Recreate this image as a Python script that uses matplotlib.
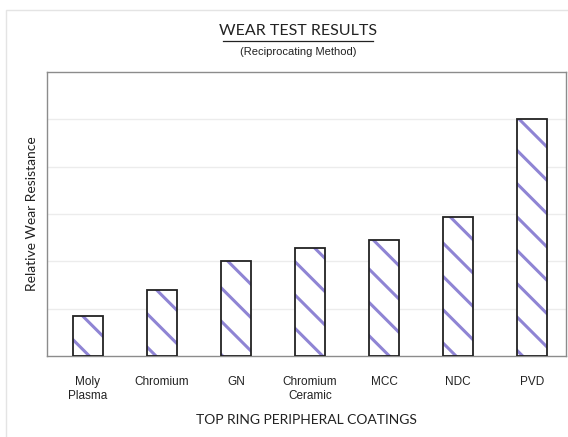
import numpy as np
import matplotlib
matplotlib.use("Agg")
import matplotlib.pyplot as plt
from matplotlib.lines import Line2D
from matplotlib.patches import Rectangle

# data
coatings = ["Moly\nPlasma", "Chromium", "GN", "Chromium\nCeramic", "MCC", "NDC", "PVD"]
resistance = [0.85, 1.40, 2.0, 2.28, 2.45, 2.94, 5.0]

plt.rcParams['hatch.linewidth'] = 2.2

fig = plt.figure(figsize=(5.68, 4.37), dpi=100)
# light frame round the chart
fig.add_artist(Rectangle((6 / 568, -0.1), 1.2, 1.1 - 10 / 437, transform=fig.transFigure,
                         fill=False, edgecolor="#e4e4e4", linewidth=1.0))

ax = fig.add_axes([47 / 568, 1 - 356 / 437, 519 / 568, 284 / 437])
x = np.arange(len(coatings))

# hatch in purple, then black outline on top
ax.bar(x, resistance, width=0.41, color="white", edgecolor="#8f84d4",
       hatch="\\", linewidth=0, zorder=2)
ax.bar(x, resistance, width=0.41, fill=False, edgecolor="#222222",
       linewidth=1.3, zorder=3)

ax.set_xlim(-0.554, 6.46)
ax.set_ylim(0, 6)
ax.set_yticks(np.arange(1, 6))
ax.yaxis.grid(True, color="#ececec", linewidth=1.0)
ax.set_axisbelow(True)
ax.tick_params(axis="y", left=False, labelleft=False)
ax.tick_params(axis="x", bottom=False, pad=11)
ax.set_xticks(x)
ax.set_xticklabels(coatings, fontsize=8.5, family="Liberation Sans", color="#222222",
                   linespacing=1.25)
for s in ax.spines.values():
    s.set_color("#8c8c8c")
    s.set_linewidth(1.0)

ax.set_xlabel("TOP RING PERIPHERAL COATINGS", fontsize=10, family="Lato",
              color="#222222", labelpad=8)
fig.text(32 / 568, 1 - 214 / 437, "Relative Wear Resistance", rotation=90,
         ha="center", va="center", fontsize=10, family="Lato", color="#222222")

fig.text(298 / 568, 1 - 31 / 437, "WEAR TEST RESULTS", ha="center", va="center",
         fontsize=11.5, family="Lato", color="#222222")
fig.add_artist(Line2D([223 / 568, 373 / 568], [1 - 40.5 / 437, 1 - 40.5 / 437],
                      color="#222222", linewidth=0.9))
fig.text(298 / 568, 1 - 52 / 437, "(Reciprocating Method)", ha="center", va="center",
         fontsize=8, family="Liberation Sans", color="#222222")

fig.savefig("out.png", dpi=100)
